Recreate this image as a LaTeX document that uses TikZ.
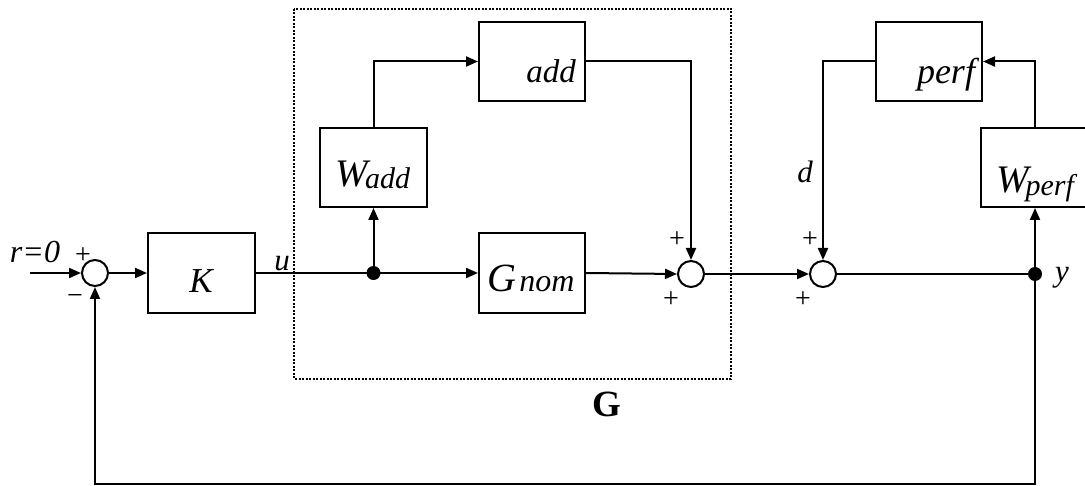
\documentclass[tikz,border=0pt]{standalone}
\usepackage{fontspec}
\setmainfont{Liberation Serif}
\usepackage{tikz}
\usetikzlibrary{arrows.meta}
\usetikzlibrary{positioning,calc}
\newcommand{\fsz}[1]{\fontsize{#1}{#1}\selectfont}
\tikzset{
  blockbox/.style={draw,line width=2pt,minimum width=106pt,minimum height=79pt,inner sep=0pt},
  sumnode/.style={draw,circle,line width=2pt,minimum size=26pt,inner sep=0pt},
  dotnode/.style={circle,fill,minimum size=14pt,inner sep=0pt},
  sig/.style={line width=2pt,-{Triangle[length=12pt,width=10pt]}},
  wire/.style={line width=2pt},
  lbl/.style={anchor=base,inner sep=0pt,font=\fsz{31}\itshape},
  sgn/.style={inner sep=0pt,font=\fsz{28}}
}

\begin{document}
\begin{tikzpicture}[x=1pt,y=-1pt]
    \clip (0,0) rectangle (1085,486);
    % the uncertain plant G
    \draw[line width=1.2pt,dash pattern=on 2pt off 1.5pt] (294,9) rectangle (731,379);
    \node[anchor=base,inner sep=0pt,font=\fsz{37}\bfseries] (Glbl) at (607,417) {G};
    % blocks
    \node[sumnode] (sum1) at (95,273) {};
    \node[blockbox,minimum width=107pt,minimum height=80pt] (K) at (201.5,273) {};
    \node[blockbox,minimum width=107pt] (Wadd) at (373.5,167.5) {};
    \node[blockbox] (add) at (532,61.5) {};
    \node[blockbox,minimum height=80pt] (Gnom) at (532,273) {};
    \node[sumnode] (sum2) at (691,274) {};
    \node[sumnode] (sum3) at (823,274) {};
    \node[blockbox] (perf) at (929,61.5) {};
    \node[blockbox,minimum width=108pt] (Wperf) at (1035,167.5) {};
    \node[dotnode] (dot1) at (373.5,273) {};
    \node[dotnode] (dot2) at (1035,274) {};
    % texts in the blocks
    \node[lbl,font=\fsz{35}\itshape] (Ktxt) at (201,293) {K};
    \node[lbl] (Waddtxt) at (373,187)
      {{\fsz{39}W}\kern-3pt{\fsz{30}\raisebox{-2pt}{add}}};
    \node[lbl,font=\fsz{33}\itshape] (addtxt) at (551,83) {add};
    \node[lbl] (Gnomtxt) at (531,292) {{\fsz{40}G}\kern3pt{\fsz{32}nom}};
    \node[lbl,font=\fsz{36}\itshape] (perftxt) at (946,84) {perf};
    \node[lbl] (Wperftxt) at (1035,193)
      {{\fsz{39}W}\kern-3pt{\fsz{30}\raisebox{-3pt}{perf}}};
    % signals
    \coordinate (rin) at (30,273);
    \draw[sig] (rin) -- (sum1.west);
    \draw[sig] (sum1.east) -- (K.west);
    \draw[sig] (K.east) -- (Gnom.west);
    \draw[sig] (dot1.center) -- (Wadd.south);
    \draw[sig] (Wadd.north) |- (add.west);
    \draw[sig] (add.east) -| (sum2.north);
    \draw[sig] (Gnom.east) -- (sum2.west);
    \draw[sig] (sum2.east) -- (sum3.west);
    \draw[sig] (perf.west) -| (sum3.north);
    \draw[wire] (sum3.east) -- (dot2.center);
    \draw[sig] (dot2.center) -- (Wperf.south);
    \draw[sig] (Wperf.north) |- (perf.east);
    \draw[sig] (dot2.center) -- ++(0,210) -| (sum1.south);
    % signal names and signs
    \node[lbl,font=\fsz{32}\itshape] (rtxt) at (35,263) {r=0};
    \node[lbl] (utxt) at (282,271) {u};
    \node[lbl] (dtxt) at (805,183) {d};
    \node[lbl] (ytxt) at (1062,282) {y};
    \node[sgn] (p1) at (83,256) {+};
    \node[sgn] (m1) at (75,300) {\textminus};
    \node[sgn] (p2) at (677,240) {+};
    \node[sgn] (p3) at (671,300) {+};
    \node[sgn] (p4) at (810,240) {+};
    \node[sgn] (p5) at (803,300) {+};
\end{tikzpicture}
\end{document}
